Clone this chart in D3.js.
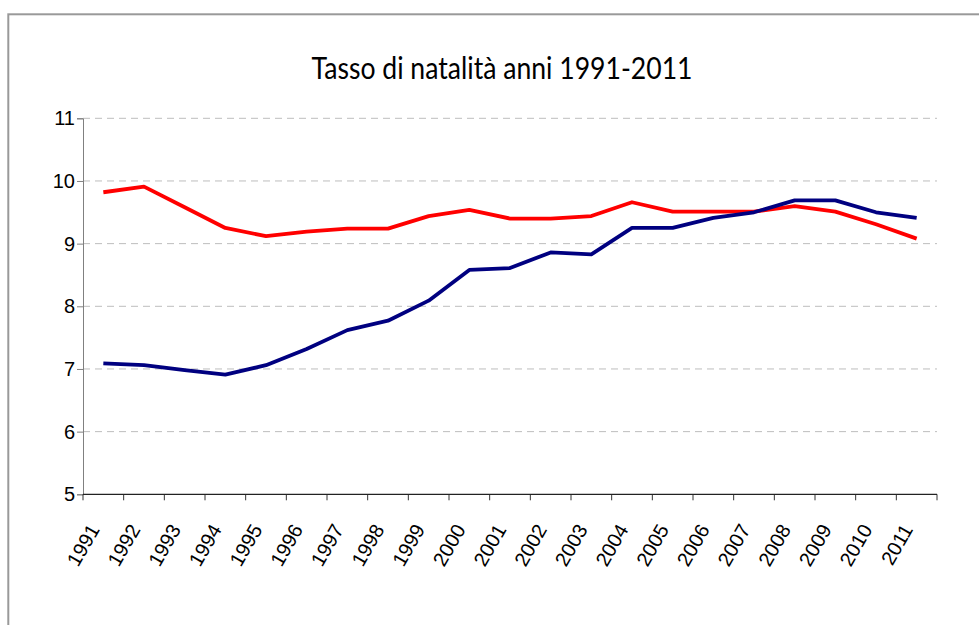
<!DOCTYPE html>
<html>
<head>
<meta charset="utf-8">
<script src="https://cdn.jsdelivr.net/npm/d3@7"></script>
<style>
  body { margin: 0; background: #fff; }
  svg { display: block; }
</style>
</head>
<body>
<svg></svg>
<script>
const width = 979;
const height = 625;

// data
const years = ["1991","1992","1993","1994","1995","1996","1997","1998","1999","2000",
               "2001","2002","2003","2004","2005","2006","2007","2008","2009","2010","2011"];
const redValues = [9.82, 9.91, 9.58, 9.25, 9.12, 9.19, 9.24, 9.24, 9.44, 9.54,
                   9.40, 9.40, 9.44, 9.66, 9.51, 9.51, 9.51, 9.60, 9.51, 9.31, 9.08];
const blueValues = [7.09, 7.06, 6.98, 6.91, 7.06, 7.32, 7.62, 7.77, 8.09, 8.58,
                    8.61, 8.86, 8.83, 9.25, 9.25, 9.41, 9.50, 9.69, 9.69, 9.50, 9.41];
const yTicks = [5, 6, 7, 8, 9, 10, 11];
const title = "Tasso di natalità anni 1991-2011";

const plot = {left: 83, right: 937, top: 118.3, bottom: 494.3};

const svg = d3.select("svg")
              .attr("width", width)
              .attr("height", height);

// outer frame
svg.append("rect")
    .attr("x", 8.3)
    .attr("y", 14.3)
    .attr("width", 990)
    .attr("height", 640)
    .attr("fill", "#fff")
    .attr("stroke", "#999")
    .attr("stroke-width", 2);

const xScale = d3.scaleBand()
                .domain(years)
                .range([plot.left, plot.right]);

const yScale = d3.scaleLinear()
                .domain([5, 11])
                .range([plot.bottom, plot.top]);

// gridlines
svg.append("g")
  .selectAll("line")
    .data(yTicks.filter(d => d > 5))
    .enter()
    .append("line")
    .attr("x1", plot.left)
    .attr("x2", plot.right)
    .attr("y1", d => yScale(d))
    .attr("y2", d => yScale(d))
    .attr("stroke", "#bdbdbd")
    .attr("stroke-width", 1)
    .attr("stroke-dasharray", "7,5");

// y axis
const yAxis = d3.axisLeft(yScale)
                  .tickValues(yTicks)
                  .tickSize(6)
                  .tickPadding(2)
                  .tickFormat(d3.format("d"));

const yG = svg.append("g")
    .attr("transform", `translate(${plot.left},0)`)
    .call(yAxis);
yG.select(".domain").attr("stroke", "#808080");
yG.selectAll(".tick line").attr("stroke", "#808080");
yG.selectAll("text")
    .style("font-family", "'Liberation Sans', Arial, sans-serif")
    .style("font-size", "20px")
    .attr("fill", "#000");

// x axis: labels at band centres, ticks at band edges
const xAxis = d3.axisBottom(xScale).tickSize(0);

const xG = svg.append("g")
    .attr("transform", `translate(0,${plot.bottom})`)
    .call(xAxis);
xG.select(".domain").remove();
xG.selectAll("text")
    .attr("y", 0)
    .attr("dy", 0)
    .attr("transform", "translate(-3,35) rotate(-60)")
    .style("text-anchor", "end")
    .style("font-family", "'Liberation Sans', Arial, sans-serif")
    .style("font-size", "20px")
    .attr("fill", "#000");

const edges = years.map(d => xScale(d)).concat([xScale.range()[1]]);
xG.selectAll(".edge")
    .data(edges)
    .enter()
    .append("line")
    .attr("x1", d => d)
    .attr("x2", d => d)
    .attr("y1", 0)
    .attr("y2", 6)
    .attr("stroke", "#333");
xG.append("line")
    .attr("x1", plot.left)
    .attr("x2", plot.right)
    .attr("stroke", "#222")
    .attr("stroke-width", 1.2);

// lines
const line = d3.line()
    .x((d, i) => xScale(years[i]) + xScale.bandwidth() / 2)
    .y(d => yScale(d));

svg.append("path")
    .datum(redValues)
    .attr("d", line)
    .attr("fill", "none")
    .attr("stroke", "#ff0000")
    .attr("stroke-width", 3.8)
    .attr("stroke-linejoin", "round");

svg.append("path")
    .datum(blueValues)
    .attr("d", line)
    .attr("fill", "none")
    .attr("stroke", "#000080")
    .attr("stroke-width", 3.8)
    .attr("stroke-linejoin", "round");

// title
svg.append("text")
    .attr("x", 502)
    .attr("y", 79)
    .attr("textLength", 381)
    .attr("lengthAdjust", "spacingAndGlyphs")
    .style("font-family", "Lato, 'Noto Sans', sans-serif")
    .style("font-size", "30px")
    .style("text-anchor", "middle")
    .text(title);
</script>
</body>
</html>
